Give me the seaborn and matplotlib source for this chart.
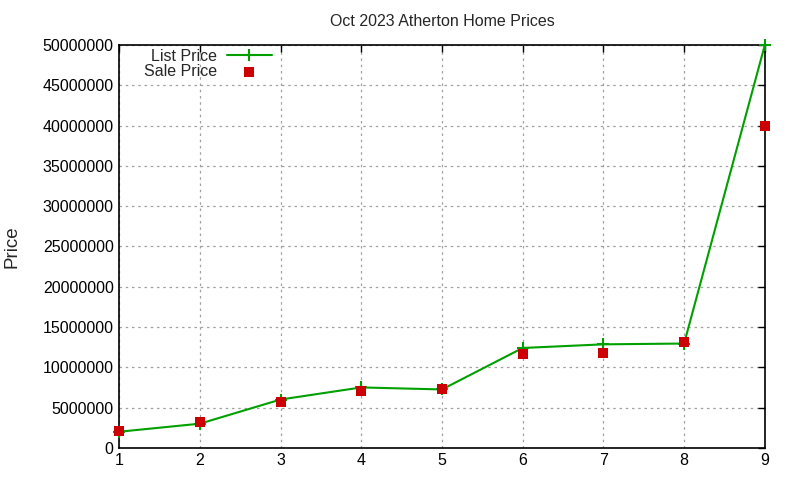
import pandas as pd
import matplotlib
matplotlib.use("Agg")
import matplotlib.pyplot as plt
import seaborn as sns

# Home index and prices (USD)
homes = [1, 2, 3, 4, 5, 6, 7, 8, 9]
list_price = [2000000, 3000000, 6000000, 7500000, 7250000, 12400000, 12850000, 12950000, 50000000]
sale_price = [2100000, 3200000, 5700000, 7000000, 7250000, 11700000, 11800000, 13150000, 40000000]

df = pd.DataFrame({"home": homes, "list": list_price, "sale": sale_price})

sns.set_style("white")
plt.rcParams["font.family"] = ["Liberation Sans", "DejaVu Sans"]

fig, ax = plt.subplots(figsize=(8, 4.8), dpi=100)
fig.subplots_adjust(left=0.149, right=0.956, top=0.906, bottom=0.067)

sns.lineplot(data=df, x="home", y="list", ax=ax, color="#00a000", linewidth=1.5,
             marker="+", markersize=8, markeredgewidth=1.5, markeredgecolor="#00a000",
             label="List Price", zorder=3)
sns.scatterplot(data=df, x="home", y="sale", ax=ax, color="#cc0000", marker="s",
                s=45, linewidth=0, label="Sale Price", zorder=4, clip_on=False)

ax.set_xlim(1, 9)
ax.set_ylim(0, 50000000)
ax.set_xticks(homes)
ax.set_yticks(range(0, 50000001, 5000000))
ax.ticklabel_format(style="plain", axis="y", useOffset=False)
ax.grid(True, color="#a0a0a0", linestyle=(0, (2, 3)), linewidth=0.9)
ax.tick_params(direction="in", top=True, right=True, length=5, width=1,
               labelsize=11.5, colors="black", pad=4)
for side in ax.spines.values():
    side.set_color("black")
    side.set_linewidth(1.2)

ax.set_title("Oct 2023 Atherton Home Prices", fontsize=11.5, pad=14)
ax.set_xlabel("")
ax.set_ylabel("Price", fontsize=13.5, labelpad=16)

ax.legend(loc="upper left", markerfirst=False, frameon=False, fontsize=11.5,
          handlelength=2.8, borderaxespad=0.0, bbox_to_anchor=(0.029, 1.007),
          labelspacing=0.05, handletextpad=0.6, numpoints=1)
for line in ax.get_lines():
    line.set_clip_on(False)

fig.savefig("out.png", dpi=100)
